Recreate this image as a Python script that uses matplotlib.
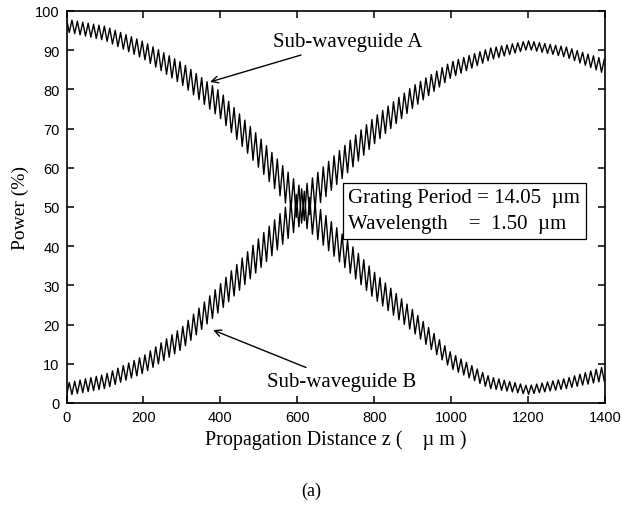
import numpy as np
import matplotlib.pyplot as plt

# values, every 100 um along z
z_knots = [0, 100, 200, 300, 400, 500, 600, 700, 800, 900, 1000, 1100, 1200, 1300, 1400]
power_a = [96.3, 94.3, 90.0, 84.0, 76.0, 64.0, 51.5, 41.0, 30.0, 21.0, 10.8, 5.2, 3.3, 5.0, 7.5]
power_b = [3.5, 5.5, 9.8, 16.5, 27.0, 38.0, 49.0, 59.5, 69.5, 78.0, 85.0, 89.0, 91.3, 89.5, 85.8]
# half of the peak-to-trough swing of the fast ripple
ripple = [1.6, 1.8, 2.2, 2.8, 3.4, 4.0, 4.5, 4.0, 3.4, 2.8, 2.0, 1.5, 1.1, 1.3, 1.8]
grating_period = 14.05   # um, ripple repeats once per grating period
wavelength = 1.50

x_ticks = [0, 200, 400, 600, 800, 1000, 1200, 1400]
y_ticks = [0, 10, 20, 30, 40, 50, 60, 70, 80, 90, 100]

serif = 'Liberation Serif'
sans = 'Liberation Sans'

# one vertex per half grating period, alternating top/bottom of the band
z = np.arange(0, 1400 + 1e-6, grating_period / 2)
sign = np.where(np.arange(len(z)) % 2 == 0, 1.0, -1.0)
amp = np.interp(z, z_knots, ripple)
pa = np.interp(z, z_knots, power_a) + sign * amp
pb = np.interp(z, z_knots, power_b) - sign * amp

fig = plt.figure(figsize=(6.22, 5.06), dpi=100)
ax = fig.add_axes([0.107, 0.2016, 0.8657, 0.7747])

ax.plot(z, pa, color='black', lw=1.0)
ax.plot(z, pb, color='black', lw=1.0)

ax.set_xlim(0, 1400)
ax.set_ylim(0, 100)
ax.set_xticks(x_ticks)
ax.set_yticks(y_ticks)
ax.tick_params(direction='in', top=True, right=True, length=5, width=1.1,
               labelsize=10.5, pad=5)
for lab in ax.get_xticklabels() + ax.get_yticklabels():
    lab.set_family(sans)
for s in ax.spines.values():
    s.set_linewidth(1.2)

ax.set_xlabel('Propagation Distance z (    \u00b5 m )', family=serif, fontsize=14.5, labelpad=4)
ax.set_ylabel('Power (%)', family=serif, fontsize=14, labelpad=4)

ax.annotate('Sub-waveguide A', xy=(373, 81.9), xytext=(537, 92.3),
            family=serif, fontsize=15, va='center', ha='left',
            arrowprops=dict(arrowstyle='->', color='black', lw=1.0, shrinkA=4, shrinkB=0,
                            mutation_scale=12))
ax.annotate('Sub-waveguide B', xy=(381, 18.6), xytext=(521, 5.4),
            family=serif, fontsize=15, va='center', ha='left',
            arrowprops=dict(arrowstyle='->', color='black', lw=1.0, shrinkA=4, shrinkB=0,
                            mutation_scale=12))

box_text = ('Grating Period = %.2f  \u00b5m\nWavelength    =  %.2f  \u00b5m'
            % (grating_period, wavelength))
ax.text(733, 49, box_text, family=serif, fontsize=15, va='center', ha='left',
        linespacing=1.5,
        bbox=dict(boxstyle='square,pad=0.25', facecolor='white', edgecolor='black', lw=0.9))

fig.text(0.5, 1 - 491 / 506, '(a)', family=serif, fontsize=13, ha='center', va='center')

fig.savefig('out.png', dpi=100)
